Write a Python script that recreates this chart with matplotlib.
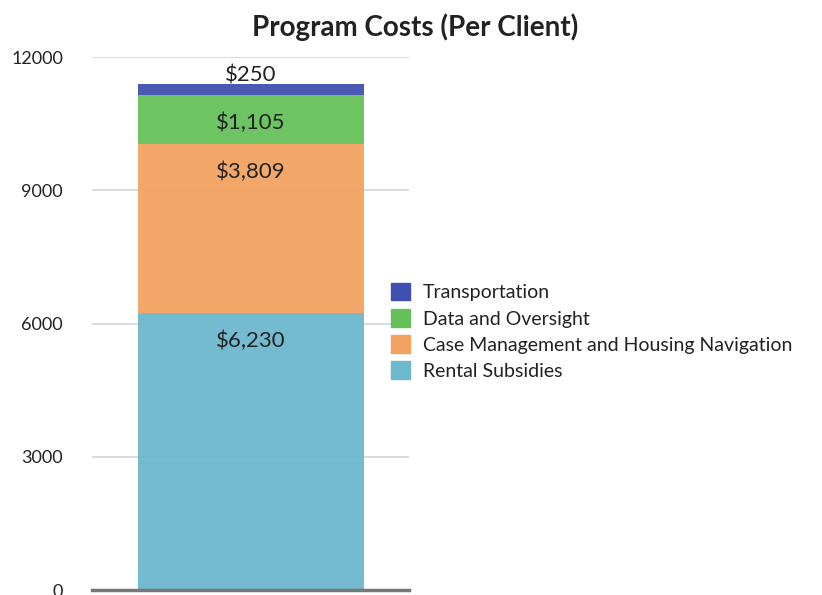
import matplotlib.pyplot as plt
from matplotlib.patches import Patch

plt.rcParams['font.family'] = ['Lato', 'DejaVu Sans']

categories = ["Rental Subsidies", "Case Management and Housing Navigation",
              "Data and Oversight", "Transportation"]
values = [6230, 3809, 1105, 250]
labels = ["$6,230", "$3,809", "$1,105", "$250"]
colors = ["#6cb8cd", "#f3a361", "#66c05a", "#4050b0"]
yticks = [0, 3000, 6000, 9000, 12000]

fig = plt.figure(figsize=(8.22, 5.95), dpi=100)
ax = fig.add_axes([0.112, 0.0084, 0.3856, 0.8958])

bottom = 0
for val, lab, col in zip(values, labels, colors):
    ax.bar(0, val, width=0.713, bottom=bottom, color=col, alpha=0.95, zorder=2)
    top = bottom + val
    if val > 500:
        ax.annotate(lab, (0, top), xytext=(0, -20), textcoords="offset points",
                    ha="center", va="center", fontsize=16, color="#222222", zorder=3)
    else:
        ax.annotate(lab, (0, top), xytext=(0, 6), textcoords="offset points",
                    ha="center", va="center", fontsize=16, color="#222222", zorder=3)
    bottom = top

ax.set_xlim(-0.5, 0.5)
ax.set_ylim(0, 12000)
ax.set_yticks(yticks)
ax.set_xticks([])
ax.yaxis.grid(True, color="#d4d4d4", linewidth=1.2, zorder=1)
ax.set_axisbelow(True)
for s in ["left", "right", "top"]:
    ax.spines[s].set_visible(False)
ax.spines["bottom"].set_color("#777777")
ax.spines["bottom"].set_linewidth(2.5)
ax.spines["bottom"].set_zorder(4)
ax.tick_params(axis="y", length=0, pad=21, labelsize=13, labelcolor="#222222")

handles = [Patch(color=c) for c in colors][::-1]
fig.legend(handles, categories[::-1], loc="center left",
           bbox_to_anchor=(0.454, 0.443), frameon=False, fontsize=14,
           handlelength=1.0, handleheight=1.0, handletextpad=0.67,
           labelspacing=0.4, labelcolor="#222222")

fig.suptitle("Program Costs (Per Client)", x=0.505, y=0.978, fontsize=20,
             fontweight="bold", color="#222222")

fig.savefig("out.png", dpi=100)
